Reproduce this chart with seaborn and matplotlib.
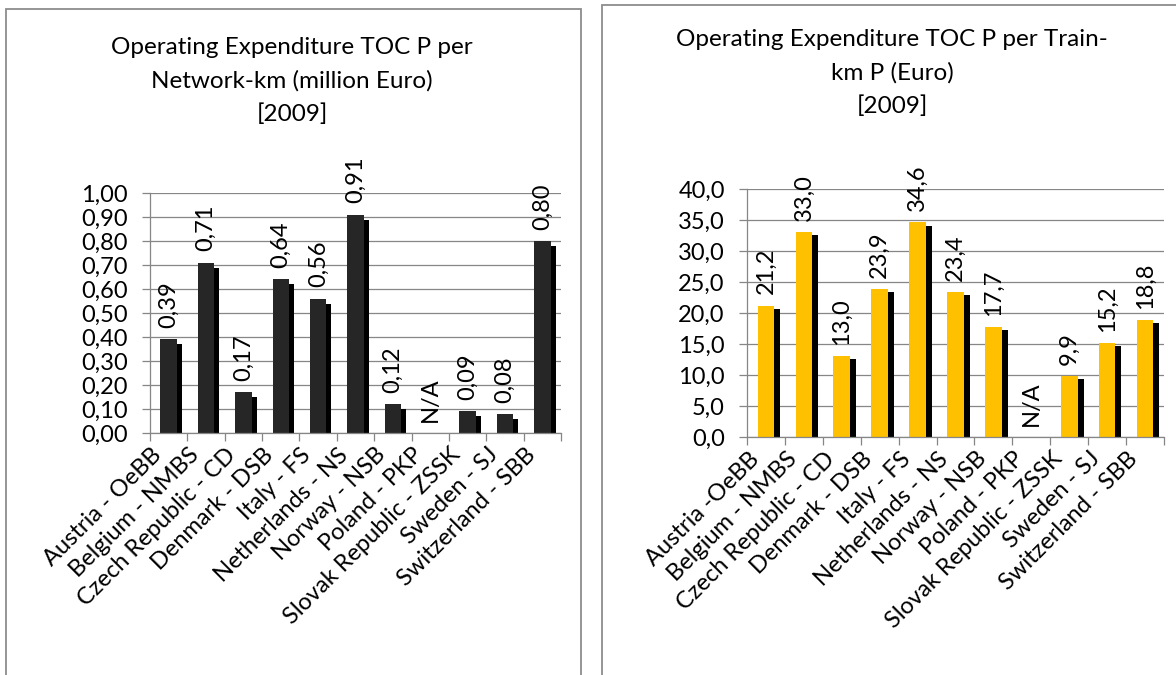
import numpy as np
import pandas as pd
import matplotlib
matplotlib.use("Agg")
import matplotlib.pyplot as plt
import matplotlib.patheffects as pe
from matplotlib.patches import Rectangle
from matplotlib.ticker import FuncFormatter, MultipleLocator
from matplotlib.transforms import ScaledTranslation
import seaborn as sns

# ---------------- data ----------------
operators_left = ["Austria - OeBB", "Belgium - NMBS", "Czech Republic - CD",
                  "Denmark - DSB", "Italy - FS", "Netherlands - NS",
                  "Norway - NSB", "Poland - PKP", "Slovak Republic - ZSSK",
                  "Sweden - SJ", "Switzerland - SBB"]
operators_right = ["Austria -OeBB", "Belgium - NMBS", "Czech Republic - CD",
                   "Denmark - DSB", "Italy - FS", "Netherlands - NS",
                   "Norway - NSB", "Poland - PKP", "Slovak Republic - ZSSK",
                   "Sweden - SJ", "Switzerland - SBB"]
opex_per_network_km = [0.39, 0.71, 0.17, 0.64, 0.56, 0.91, 0.12, np.nan, 0.09, 0.08, 0.80]
opex_per_train_km = [21.2, 33.0, 13.0, 23.9, 34.6, 23.4, 17.7, np.nan, 9.9, 15.2, 18.8]
title_left = "Operating Expenditure TOC P per\nNetwork-km (million Euro)\n[2009]"
title_right = "Operating Expenditure TOC P per Train-\nkm P (Euro)\n[2009]"

# ---------------- style ----------------
sns.set_theme(style="white")
plt.rcParams['font.family'] = ['Lato', 'DejaVu Sans']

W, H = 1176, 675
fig = plt.figure(figsize=(W / 100, H / 100), dpi=100)
GREY = "#868686"
FS = 17


def px_rect(x0, x1, ytop, ybot):
    return [x0 / W, 1 - ybot / H, (x1 - x0) / W, (ybot - ytop) / H]


def panel(rect, cats, vals, decimals, ymax, step, color, shadow, xoff_px, pad_pt):
    ax = fig.add_axes(rect)
    df = pd.DataFrame({"op": cats, "val": vals})
    df["bar"] = df["val"].fillna(0)
    sns.barplot(data=df, x="op", y="bar", order=cats, color=color,
                saturation=1, width=0.44, linewidth=0, ax=ax)
    for p in ax.patches:
        p.set_path_effects([pe.SimplePatchShadow(offset=shadow, shadow_rgbFace="black", alpha=1.0),
                            pe.Normal()])

    def fmt(v):
        return "N/A" if pd.isna(v) else f"{v:.{decimals}f}".replace(".", ",")

    ax.bar_label(ax.containers[0], labels=[fmt(v) for v in vals], rotation=90,
                 padding=8, fontsize=FS, color="black")

    ax.set_xlim(-0.5, len(cats) - 0.5)
    ax.set_ylim(0, ymax)
    ax.yaxis.set_major_locator(MultipleLocator(step))
    ax.yaxis.set_major_formatter(FuncFormatter(lambda v, _: f"{v:.{decimals}f}".replace(".", ",")))
    ax.set_axisbelow(True)
    ax.grid(axis="y", color=GREY, lw=0.9)
    ax.grid(axis="x", visible=False)
    for s in ("top", "right"):
        ax.spines[s].set_visible(False)
    for s in ("left", "bottom"):
        ax.spines[s].set_color(GREY)
        ax.spines[s].set_linewidth(0.9)
    ax.set_xlabel("")
    ax.set_ylabel("")

    ax.tick_params(axis="y", which="major", left=True, length=6, width=0.9,
                   color=GREY, pad=10, labelsize=FS, labelcolor="black")
    ax.set_xticks(range(len(cats)))
    ax.set_xticklabels(cats, rotation=45, ha="right", va="top", rotation_mode="anchor")
    ax.set_xticks(np.arange(-0.5, len(cats), 1), minor=True)
    ax.tick_params(axis="x", which="major", bottom=True, length=0, pad=pad_pt,
                   labelsize=FS, labelcolor="black")
    ax.tick_params(axis="x", which="minor", bottom=True, length=6, width=0.9, color=GREY)
    off = ScaledTranslation(xoff_px / 100, 0, fig.dpi_scale_trans)
    for lbl in ax.get_xticklabels():
        lbl.set_transform(lbl.get_transform() + off)
    return ax


panel(px_rect(150, 561, 193, 433), operators_left, opex_per_network_km, 2, 1.0, 0.1,
      "#262626", (3.6, -3.6), -18, 8)
panel(px_rect(747, 1164, 189, 437), operators_right, opex_per_train_km, 1, 40.0, 5.0,
      "#FFC000", (4.3, -2.2), -18, 8)

fig.text(292 / W, 1 - 121 / H, title_left, ha="center", va="baseline",
         fontsize=17.5, linespacing=1.68, color="black")
fig.text(892 / W, 1 - 113 / H, title_right, ha="center", va="baseline",
         fontsize=17.5, linespacing=1.68, color="black")

# chart frames
fig.add_artist(Rectangle((6 / W, -0.1), (581 - 6) / W, 1.1 - 9 / H, transform=fig.transFigure,
                         fill=False, ec="#8c8c8c", lw=1.3))
fig.add_artist(Rectangle((602 / W, -0.1), 0.5, 1.1 - 5 / H, transform=fig.transFigure,
                         fill=False, ec="#8c8c8c", lw=1.3))

fig.savefig("out.png", dpi=100)
